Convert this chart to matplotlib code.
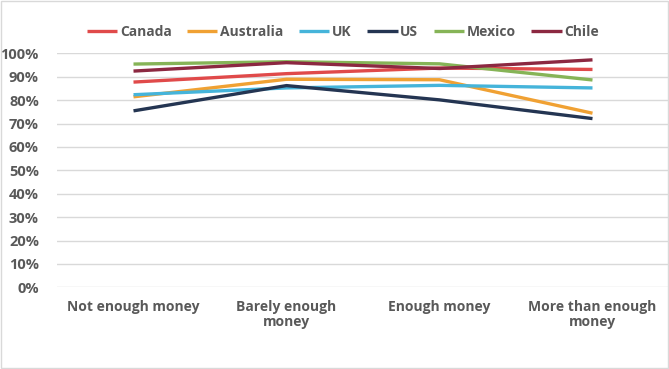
import matplotlib.pyplot as plt
from matplotlib.patches import Rectangle
from matplotlib.ticker import PercentFormatter

categories = ['Not enough money', 'Barely enough\nmoney', 'Enough money', 'More than enough\nmoney']
countries = ['Canada', 'Australia', 'UK', 'US', 'Mexico', 'Chile']
canada = [87.7, 91.3, 93.7, 93.1]
australia = [81.4, 88.9, 88.7, 74.4]
uk = [82.3, 85.2, 86.3, 85.2]
us = [75.4, 86.2, 80.1, 72.1]
mexico = [95.4, 96.4, 95.5, 88.6]
chile = [92.4, 96.0, 93.5, 97.2]
colors = ['#E04A4A', '#F0A133', '#45B4DA', '#243552', '#86B457', '#8C2841']

series = [canada, australia, uk, us, mexico, chile]
gray = '#595959'

plt.rcParams['font.family'] = ['Open Sans', 'DejaVu Sans']
plt.rcParams['font.weight'] = 'bold'

fig = plt.figure(figsize=(6.69, 3.69), dpi=100)
ax = fig.add_axes([57 / 669, 1 - 287.3 / 369, 1 - 57 / 669, (287.3 - 53.3) / 369])

x = list(range(len(categories)))
for name, vals, c in zip(countries, series, colors):
    ax.plot(x, vals, color=c, lw=2.4, label=name, solid_capstyle='butt')

ax.set_ylim(0, 100)
ax.set_xlim(-0.5, 3.5)
ax.set_yticks(range(0, 101, 10))
ax.yaxis.set_major_formatter(PercentFormatter(decimals=0))
ax.set_xticks(x)
ax.set_xticklabels(categories, linespacing=1.15)
ax.tick_params(axis='both', length=0, colors=gray, labelsize=10)
ax.tick_params(axis='y', pad=13, labelsize=10.5)
ax.tick_params(axis='x', pad=9)
for lab in ax.get_xticklabels() + ax.get_yticklabels():
    lab.set_fontweight('bold')
ax.grid(axis='y', color='#D9D9D9', lw=1)
ax.set_axisbelow(True)
for s in ax.spines.values():
    s.set_visible(False)

leg = fig.legend(loc='center', bbox_to_anchor=(343 / 669, 1 - 32 / 369), ncol=6, frameon=False,
                 fontsize=10, handlelength=2.2, handletextpad=0.2, columnspacing=1.1)
for t in leg.get_texts():
    t.set_color(gray)
    t.set_fontweight('bold')

fig.patches.append(Rectangle((0.001, 0.002), 0.997, 0.995, transform=fig.transFigure,
                             fill=False, edgecolor='#D9D9D9', lw=1))

fig.savefig('out.png', dpi=100)
